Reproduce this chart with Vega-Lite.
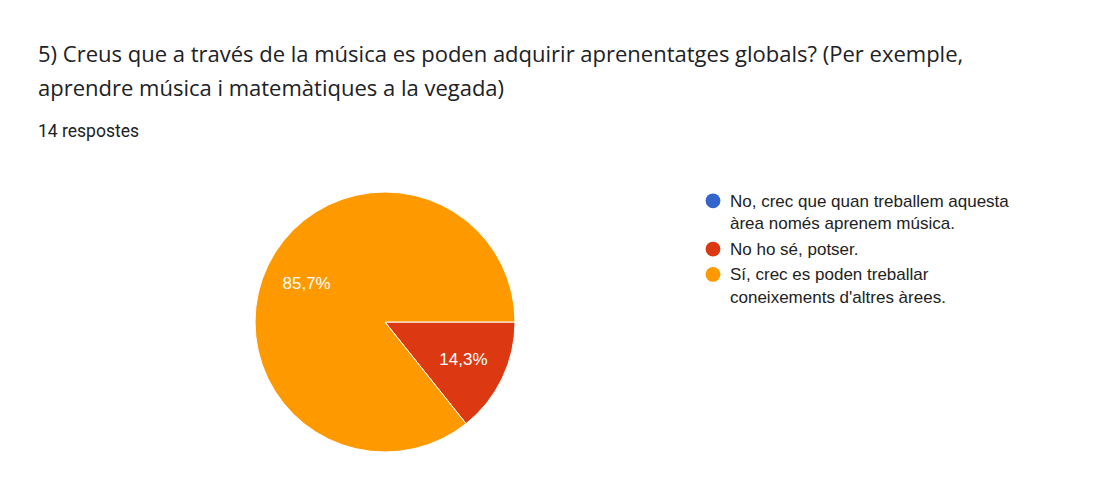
{
  "$schema": "https://vega.github.io/schema/vega-lite/v6.json",
  "width": 694,
  "height": 324,
  "padding": {"left": 38, "top": 43, "right": 0, "bottom": 0},
  "background": "white",
  "config": {"view": {"stroke": null}, "style": {"guide-label": {"lineHeight": 22.7, "dy": -10}}},
  "title": {
    "text": ["5) Creus que a través de la música es poden adquirir aprenentatges globals? (Per exemple,", "aprendre música i matemàtiques a la vegada)"],
    "subtitle": "14 respostes",
    "anchor": "start",
    "frame": "group",
    "font": "Open Sans",
    "fontSize": 22,
    "fontWeight": "normal",
    "color": "#202124",
    "lineHeight": 34,
    "subtitleFont": "Roboto",
    "subtitleFontSize": 17.5,
    "subtitleColor": "#202124",
    "subtitlePadding": 22,
    "offset": 19
  },
  "data": {
    "values": [
      {"resposta": "No, crec que quan treballem aquesta àrea només aprenem música.", "n": 0, "pct": "0%"},
      {"resposta": "No ho sé, potser.", "n": 2, "pct": "14,3%"},
      {"resposta": "Sí, crec es poden treballar coneixements d'altres àrees.", "n": 12, "pct": "85,7%"}
    ]
  },
  "encoding": {
    "theta": {"field": "n", "type": "quantitative", "stack": true, "scale": {"range": [1.5707963, 7.8539816]}},
    "order": {"field": "n", "type": "quantitative", "sort": "ascending"}
  },
  "layer": [
    {
      "mark": {"type": "arc", "outerRadius": 130, "stroke": "white", "strokeWidth": 1},
      "encoding": {
        "color": {
          "field": "resposta",
          "type": "nominal",
          "scale": {
            "domain": ["No, crec que quan treballem aquesta àrea només aprenem música.", "No ho sé, potser.", "Sí, crec es poden treballar coneixements d'altres àrees."],
            "range": ["#3366cc", "#dc3912", "#ff9900"]
          },
          "legend": {
            "orient": "none",
            "legendX": 666.5,
            "legendY": 32.3,
            "title": null,
            "padding": 0,
            "symbolType": "circle",
            "symbolSize": 220,
            "symbolStrokeWidth": 0,
            "symbolOpacity": 1,
            "labelFont": "Liberation Sans",
            "labelFontSize": 17,
            "labelColor": "#222222",
            "labelOffset": 8.5,
            "labelLimit": 400,
            "rowPadding": 7.3,
            "labelBaseline": "line-top",
            "labelExpr": "indexof(datum.label, 'No,') == 0 ? ['No, crec que quan treballem aquesta', 'àrea només aprenem música.'] : indexof(datum.label, 'Sí') == 0 ? ['Sí, crec es poden treballar', \"coneixements d'altres àrees.\"] : datum.label"
          }
        }
      }
    },
    {
      "transform": [{"filter": "datum.n > 0"}],
      "mark": {"type": "text", "radius": 87, "font": "Liberation Sans", "fontSize": 17, "fill": "white"},
      "encoding": {
        "detail": {"field": "resposta", "type": "nominal"},
        "text": {"field": "pct", "type": "nominal"}
      }
    }
  ]
}
